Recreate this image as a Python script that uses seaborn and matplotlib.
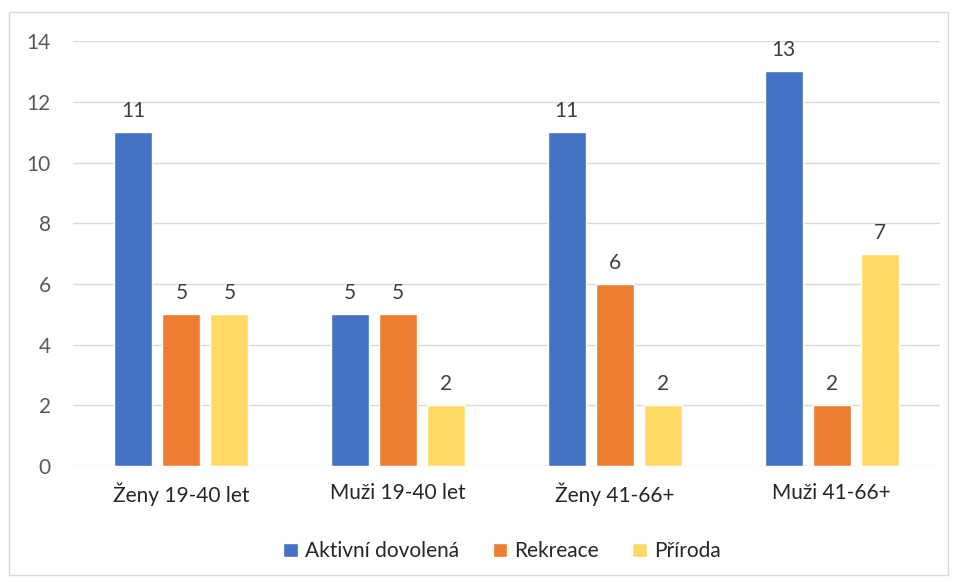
import pandas as pd
import seaborn as sns
from matplotlib import pyplot as plt
from matplotlib.patches import Rectangle

# chart data
groups = ['Ženy 19-40 let', 'Muži 19-40 let', 'Ženy 41-66+', 'Muži 41-66+']
series = ['Aktivní dovolená', 'Rekreace', 'Příroda']
aktivni = [11, 5, 11, 13]
rekreace = [5, 5, 6, 2]
priroda = [5, 2, 2, 7]
colors = ['#4472C4', '#ED7D31', '#FFD966']

df = pd.DataFrame({
    'group': groups * 3,
    'series': [series[0]] * 4 + [series[1]] * 4 + [series[2]] * 4,
    'value': aktivni + rekreace + priroda,
})

sns.set_style('white')
plt.rcParams['font.family'] = ['Lato', 'DejaVu Sans']

fig = plt.figure(figsize=(9.57, 5.82), dpi=100)
ax = fig.add_axes([0.0763, 0.199, 0.906, 0.7304])

sns.barplot(data=df, x='group', y='value', hue='series', palette=colors,
            saturation=1, width=0.665, gap=0.21, ax=ax, legend=True)

# value labels above bars
for cont in ax.containers:
    ax.bar_label(cont, padding=8, fontsize=15, color='#404040')

ax.set_ylim(0, 14)
ax.set_yticks(range(0, 15, 2))
ax.grid(axis='y', color='#D9D9D9', linewidth=1)
ax.set_axisbelow(True)
sns.despine(ax=ax, left=True, bottom=True)
ax.tick_params(axis='both', length=0, labelsize=15, colors='#595959')
ax.tick_params(axis='x', pad=12, labelcolor='#262626')
ax.tick_params(axis='y', pad=16)
ax.set_xlabel('')
ax.set_ylabel('')

ax.legend(loc='center', bbox_to_anchor=(0.495, -0.2), ncol=3, frameon=False,
          fontsize=15, handlelength=0.7, handleheight=0.7, handletextpad=0.35,
          columnspacing=1.6)

# light border around the chart
fig.patches.append(Rectangle((9 / 957, 7 / 582), 939 / 957, 563 / 582,
                             transform=fig.transFigure, fill=False,
                             edgecolor='#D9D9D9', linewidth=1))

fig.savefig('out.png', dpi=100)
